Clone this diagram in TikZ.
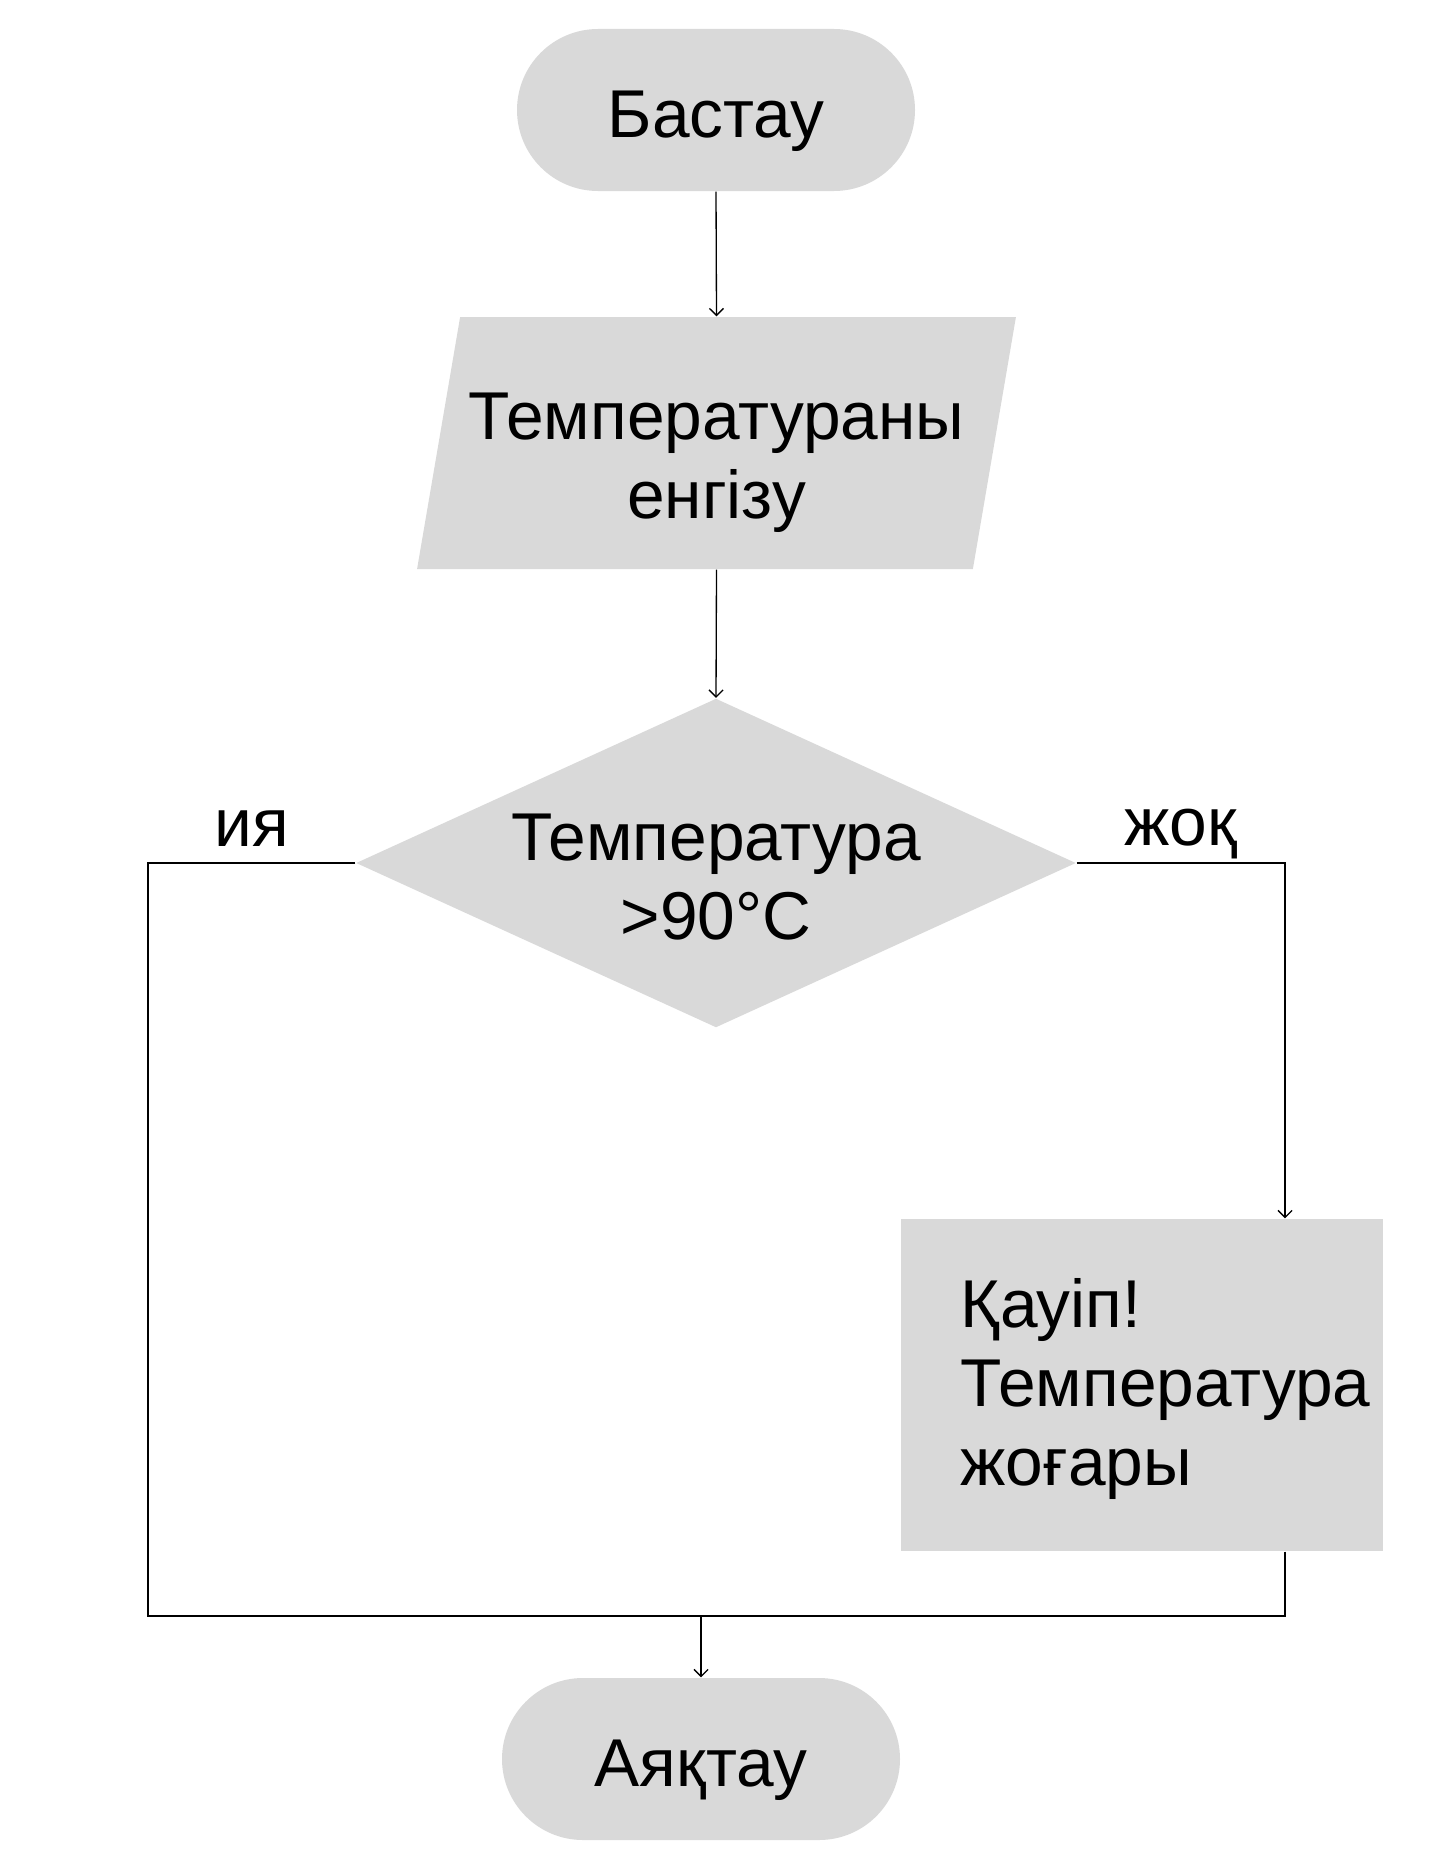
\documentclass[tikz,border=0pt]{standalone}
\usepackage{xcolor}
\usepackage{fontspec}
\setmainfont{Liberation Sans}
\usepackage{tikz}
\usetikzlibrary{shapes, arrows, arrows.meta, calc, positioning}
\definecolor{boxgray}{HTML}{D9D9D9}
\tikzset{
  >={Straight Barb[length=4pt,width=8pt]},
  every node/.style={font=\fontsize{38.5}{45}\selectfont},
  terminal/.style={fill=boxgray, rectangle, rounded corners=1.62cm, minimum width=7.96cm, minimum height=3.24cm, text height=31pt, text depth=0pt},
  inputbox/.style={fill=boxgray, trapezium, trapezium left angle=85.2, trapezium right angle=94.8, trapezium stretches=true, inner sep=10pt, minimum width=11.98cm, minimum height=5.04cm},
  decision/.style={fill=boxgray, diamond, minimum width=14.4cm, minimum height=6.58cm, inner sep=0pt},
  processbox/.style={fill=boxgray, rectangle, minimum width=9.64cm, minimum height=6.64cm},
  flow/.style={line width=0.75pt}
}

\begin{document}
\begin{tikzpicture}[flow]
  \useasboundingbox (0,0) rectangle (28.68,-37.44);
  \node[terminal] (start) at (14.32,-2.20) {Бастау};
  \node[inputbox] (input) at (14.33,-8.86) {};
  \node[align=center, yshift=-0.4cm] (inputtext) at (input) {Температураны\\енгізу};
  \node[decision] (check) at (14.32,-17.26) {};
  \node[align=center, yshift=-0.29cm] (checktext) at (check) {Температура\\>90°C};
  \node[processbox] (warn) at (22.84,-27.70) {};
  \node[anchor=west, align=left, inner sep=0pt] (warntext) at (19.2,-27.78) {Қауіп!\\Температура\\жоғары};
  \node[terminal] (end) at (14.02,-35.18) {Аяқтау};
  \coordinate (yesleft) at (2.96,-17.26);
  \coordinate (noright) at (25.7,-17.26);
  \coordinate (join) at (14.02,-32.32);
  \draw[->] (start.south) -- (input.north);
  \draw[->] (input.south) -- (check.north);
  \draw (check.west) -- node[above, text depth=0pt, yshift=0.2cm] (yes) {ия} (yesleft) |- (join);
  \draw[->] (check.east) -- node[above, text depth=0pt, yshift=0.22cm] (no) {жоқ} (noright) -- (noright |- warn.north);
  \draw (noright |- warn.south) |- (join);
  \draw[->] (join) -- (end.north);
\end{tikzpicture}
\end{document}
